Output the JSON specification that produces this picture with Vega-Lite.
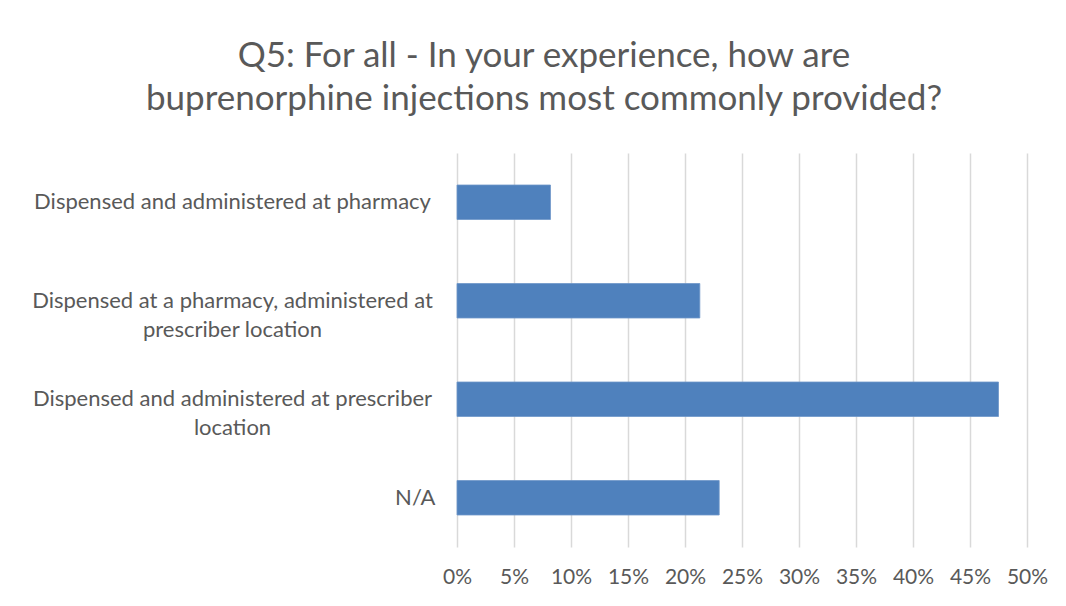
{
  "$schema": "https://vega.github.io/schema/vega-lite/v6.json",
  "autosize": "none",
  "width": 570,
  "height": 394,
  "padding": {"left": 457, "top": 153, "right": 39, "bottom": 59},
  "background": "white",
  "title": {
    "text": ["Q5: For all - In your experience, how are", "buprenorphine injections most commonly provided?"],
    "anchor": "middle",
    "frame": "group",
    "dx": -198,
    "font": "Lato",
    "fontSize": 35,
    "fontWeight": "normal",
    "color": "#595959",
    "lineHeight": 43,
    "offset": 36
  },
  "data": {
    "values": [
      {"answer": "Dispensed and administered at pharmacy", "share": 0.082},
      {"answer": "Dispensed at a pharmacy, administered at|prescriber location", "share": 0.213},
      {"answer": "Dispensed and administered at prescriber|location", "share": 0.475},
      {"answer": "N/A", "share": 0.23}
    ]
  },
  "mark": {"type": "bar", "color": "#4f81bd", "stroke": "#6f97c9", "strokeWidth": 0.8},
  "encoding": {
    "y": {
      "field": "answer",
      "type": "nominal",
      "sort": null,
      "scale": {"paddingInner": 0.65, "paddingOuter": 0.325},
      "axis": {
        "title": null,
        "domain": false,
        "ticks": false,
        "labelExpr": "split(datum.label, '|')",
        "labelFont": "Lato",
        "labelFontSize": 22,
        "labelColor": "#595959",
        "labelLineHeight": 29,
        "labelLimit": 500,
        "labelAlign": {"condition": {"test": "datum.value == 'N/A'", "value": "right"}, "value": "center"},
        "labelPadding": {"condition": {"test": "datum.value == 'N/A'", "value": 22}, "value": 225}
      }
    },
    "x": {
      "field": "share",
      "type": "quantitative",
      "scale": {"domain": [0, 0.5], "nice": false},
      "axis": {
        "title": null,
        "format": ".0%",
        "values": [0, 0.05, 0.1, 0.15, 0.2, 0.25, 0.3, 0.35, 0.4, 0.45, 0.5],
        "domain": false,
        "ticks": false,
        "grid": true,
        "gridColor": "#d9d9d9",
        "gridWidth": 1.5,
        "labelFont": "Lato",
        "labelFontSize": 21,
        "labelColor": "#595959",
        "labelPadding": 19,
        "labelFlush": false
      }
    }
  },
  "config": {"view": {"stroke": null}}
}
